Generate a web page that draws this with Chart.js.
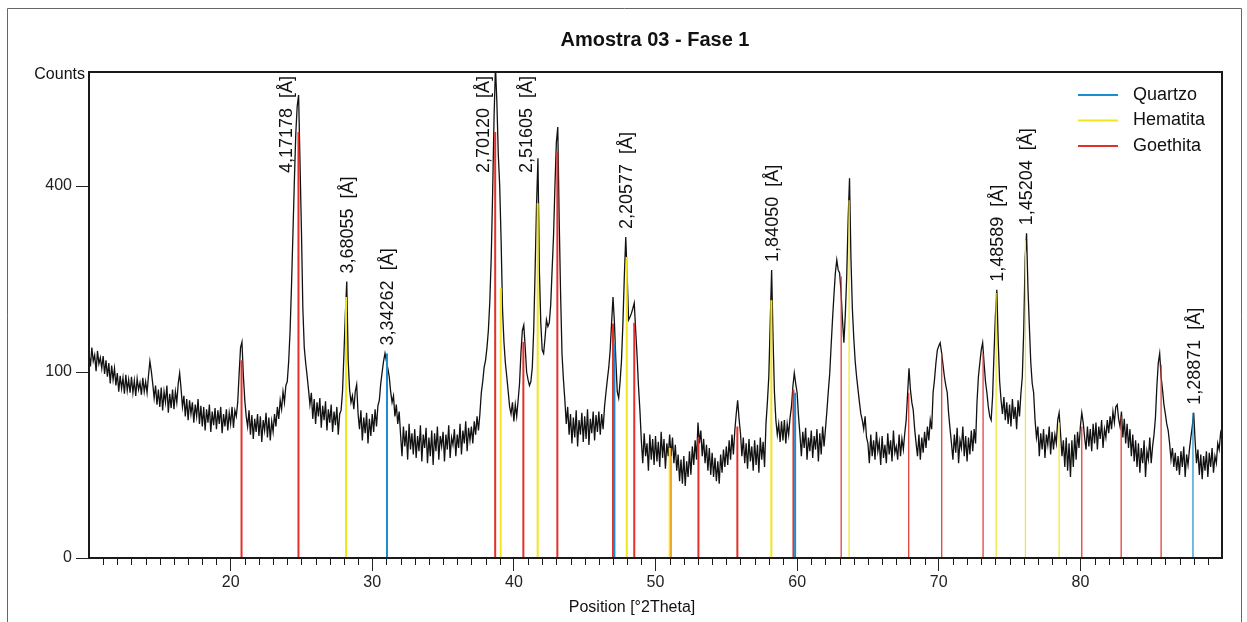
<!DOCTYPE html>
<html>
<head>
<meta charset="utf-8">
<script src="https://cdn.jsdelivr.net/npm/chart.js@4.4.1/dist/chart.umd.min.js"></script>
<style>
  html, body { margin: 0; background: #fff; }
  canvas { display: block; }
</style>
</head>
<body>
<canvas id="xrd" width="1247" height="622"></canvas>
<script>
// scan: 10.0 .. 90.0 °2Theta, one value per 0.1°
const scanStart = 10
const scanStep = 0.1
const counts = [
  121,106,128,112,119,101,124,109,116,104, // 10
  118,98,113,95,110,88,107,92,104,86,
  99,80,96,83,94,78,97,81,92,79,
  95,79,91,76,93,82,89,77,94,80,
  90,79,96,112,101,88,74,86,68,82,
  66,84,63,80,70,86,61,78,65,82, // 15
  64,80,70,88,99,83,66,76,58,73,
  55,72,60,70,53,68,58,73,52,67,
  50,66,47,64,53,68,46,62,51,65,
  48,63,52,66,45,60,50,64,47,61,
  52,66,49,63,58,70,98,128,135,96, // 20
  72,58,50,63,44,59,41,56,46,60,
  43,58,39,55,47,61,42,57,40,54,
  46,60,50,66,56,72,64,80,70,86,
  90,112,150,215,305,410,520,590,620,450,
  310,180,128,110,96,82,68,79,56,73, // 25
  52,70,58,74,49,67,55,71,47,64,
  53,68,46,62,51,66,44,60,63,80,
  120,172,221,113,82,70,76,64,80,87,
  60,48,63,40,57,45,61,38,56,43,
  60,46,64,50,67,72,88,100,112,121, // 30
  112,104,95,80,70,76,58,68,52,62,
  44,30,50,36,47,28,52,34,45,31,
  48,29,43,33,51,27,44,35,49,26,
  42,30,47,25,45,33,50,28,43,36,
  46,27,44,34,51,29,42,37,48,30, // 35
  44,35,52,31,47,38,54,33,49,40,
  50,38,54,44,58,47,60,79,90,105,
  113,128,150,190,260,385,560,700,600,470,
  400,290,178,135,110,95,80,66,60,70,
  54,68,58,72,88,122,150,157,128,100, // 40
  92,86,90,105,150,240,360,462,240,160,
  125,121,140,164,155,160,185,240,300,400,
  500,537,330,200,120,92,72,52,66,44,
  60,38,57,42,63,36,55,44,61,39,
  58,41,64,37,56,45,62,40,59,46, // 45
  62,44,60,48,66,79,92,105,125,160,
  197,160,113,80,74,90,113,160,230,298,
  230,164,168,173,180,188,150,118,85,63,
  40,26,45,30,38,22,44,28,41,25,
  43,27,39,24,46,29,41,23,38,30, // 50
  44,30,42,26,37,22,31,17,28,16,
  30,15,27,19,33,20,36,25,40,28,
  53,38,47,30,41,26,37,22,35,20,
  32,19,29,17,27,16,31,21,34,24,
  36,25,40,28,44,31,47,60,72,56, // 55
  45,30,42,26,38,23,41,27,36,22,
  40,25,37,21,42,28,39,24,52,70,
  95,160,240,140,79,55,44,52,39,54,
  40,55,38,52,44,57,66,85,99,88,
  79,58,44,30,46,35,49,28,42,33, // 60
  47,29,43,34,48,27,45,31,50,36,
  48,62,80,98,130,165,200,235,257,240,
  235,205,165,134,170,228,330,417,260,180,
  140,112,95,82,70,60,55,48,58,42,
  38,26,44,30,40,28,46,33,39,25, // 65
  43,29,37,26,45,31,40,27,47,32,
  36,28,44,30,41,34,45,55,78,104,
  82,70,63,48,38,30,44,28,42,32,
  46,35,50,40,55,48,79,92,110,125,
  130,134,122,108,95,86,79,60,48,38, // 70
  28,44,32,49,26,40,35,50,30,43,
  27,42,31,47,33,48,38,70,95,110,
  125,134,110,90,79,66,58,55,75,120,
  170,208,135,90,72,60,75,55,70,52,
  68,50,73,56,66,48,72,58,78,95, // 75
  150,260,305,210,154,110,88,79,55,42,
  50,30,45,34,48,29,44,37,50,31,
  46,34,44,38,55,61,45,30,40,24,
  42,22,38,19,40,24,44,28,46,35,
  50,61,53,42,34,50,36,48,33,52, // 80
  38,53,34,50,41,55,35,48,42,55,
  45,58,48,62,53,66,68,56,50,62,
  42,56,38,52,35,48,30,44,27,40,
  24,38,21,35,26,40,19,33,28,42,
  26,36,44,57,85,110,121,95,82,68, // 85
  60,52,47,38,28,35,24,32,22,30,
  20,33,24,36,19,31,25,34,42,50,
  61,40,26,34,20,31,18,30,22,33,
  19,32,24,35,21,30,26,38,34,45,
  40 // 90
]

// reference patterns (stick positions in °2Theta, stick heights in counts)
const phaseNames = ["Quartzo", "Hematita", "Goethita"]
const quartzoPos = [31.04, 47.1, 59.86, 87.95]
const quartzoTop = [121, 133, 79, 61]
const hematitaPos = [28.15, 39.07, 41.68, 47.97, 51.0, 58.18, 63.67, 74.05, 76.12, 78.5]
const hematitaTop = [197, 211, 364, 262, 35, 192, 370, 203, 292, 53]
const goethitaPos = [20.77, 24.79, 38.68, 40.67, 43.07, 47.0, 48.5, 51.06, 53.03, 55.78, 59.74, 63.11, 67.88, 70.21, 73.13, 80.1, 82.88, 85.7]
const goethitaTop = [113, 525, 525, 135, 477, 159, 160, 35, 42, 50, 82, 229, 79, 121, 121, 50, 58, 108]

// labelled peaks (d-spacing text, °2Theta)
const peakLabels = ["4,17178", "3,68055", "3,34262", "2,70120", "2,51605", "2,20577", "1,84050", "1,48589", "1,45204", "1,28871"]
const peakPos = [24.79, 28.2, 31.04, 38.7, 41.7, 47.95, 58.2, 74.1, 76.17, 87.99]

const yTicks = [0, 100, 400]
const xLabelTicks = [20, 30, 40, 50, 60, 70, 80]

const FONT = '"Liberation Sans", Arial, Helvetica, sans-serif'
const phaseColors = ["#1a8fcf", "#f2e61c", "#e2302b"]

// square-root intensity axis
class SqrtScale extends Chart.LinearScale {
  getPixelForValue(value) {
    if (value === null || value === undefined) return NaN
    const lo = Math.sqrt(Math.max(this.min, 0))
    const hi = Math.sqrt(this.max)
    return this.getPixelForDecimal((Math.sqrt(Math.max(value, 0)) - lo) / (hi - lo))
  }
  getValueForPixel(pixel) {
    const lo = Math.sqrt(Math.max(this.min, 0))
    const hi = Math.sqrt(this.max)
    const s = lo + this.getDecimalForPixel(pixel) * (hi - lo)
    return s * s
  }
}
SqrtScale.id = "sqrt"
SqrtScale.defaults = {}
Chart.register(SqrtScale)

const scan = counts.map((c, i) => ({ x: +(scanStart + i * scanStep).toFixed(2), y: c }))

function sticks(pos, top) {
  const pts = []
  pos.forEach((x, i) => {
    pts.push({ x: x, y: 0 }, { x: x, y: top[i] }, { x: x, y: null })
  })
  return pts
}

function stickDataset(label, pos, top, color) {
  return {
    label: label,
    data: sticks(pos, top),
    borderColor: color,
    borderWidth: 2,
    pointRadius: 0,
    spanGaps: false,
    order: 1,
    segment: {
      borderWidth: ctx => ctx.p0.parsed.x > 62 ? 1.2 : 2
    }
  }
}

const xrdDecor = {
  id: "xrdDecor",
  beforeDraw(chart) {
    const ctx = chart.ctx
    ctx.save()
    ctx.fillStyle = "#fff"
    ctx.fillRect(0, 0, chart.width, chart.height)
    ctx.strokeStyle = "#666"
    ctx.lineWidth = 1
    ctx.beginPath()
    ctx.moveTo(7.5, chart.height)
    ctx.lineTo(7.5, 8.5)
    ctx.lineTo(1241.5, 8.5)
    ctx.lineTo(1241.5, chart.height)
    ctx.stroke()
    ctx.restore()
  },
  afterDatasetsDraw(chart) {
    const { ctx, chartArea } = chart
    const x = chart.scales.x
    const y = chart.scales.y
    ctx.save()
    ctx.font = "18px " + FONT
    ctx.fillStyle = "#111"
    peakLabels.forEach((d, i) => {
      const text = d + "  [Å]"
      const pos = peakPos[i]
      let top = 0
      counts.forEach((c, j) => {
        const t = scanStart + j * scanStep
        if (Math.abs(t - pos) <= 0.15 && c > top) top = c
      })
      const px = x.getPixelForValue(pos)
      const py = Math.max(y.getPixelForValue(Math.min(top, y.max)), chartArea.top)
      const w = ctx.measureText(text).width
      ctx.save()
      if (py - 8 - w > chartArea.top + 3) {
        ctx.translate(px + 1, py - 8)
        ctx.rotate(-Math.PI / 2)
        ctx.textAlign = "left"
        ctx.textBaseline = "middle"
      } else {
        ctx.translate(px - 6, chartArea.top + 4)
        ctx.rotate(-Math.PI / 2)
        ctx.textAlign = "right"
        ctx.textBaseline = "alphabetic"
      }
      ctx.fillText(text, 0, 0)
      ctx.restore()
    })
    ctx.restore()
  },
  afterDraw(chart) {
    const { ctx, chartArea } = chart
    const x = chart.scales.x
    ctx.save()
    // plot frame
    ctx.strokeStyle = "#1a1a1a"
    ctx.lineWidth = 2
    ctx.strokeRect(chartArea.left, chartArea.top, chartArea.right - chartArea.left, chartArea.bottom - chartArea.top)
    // minor ticks every degree
    ctx.lineWidth = 1
    ctx.beginPath()
    for (let v = 11; v < 90; v++) {
      if (v % 10 === 0) continue
      const px = Math.round(x.getPixelForValue(v)) + 0.5
      ctx.moveTo(px, chartArea.bottom)
      ctx.lineTo(px, chartArea.bottom + 7)
    }
    ctx.stroke()
    // title
    ctx.fillStyle = "#111"
    ctx.textAlign = "center"
    ctx.textBaseline = "middle"
    ctx.font = "bold 20px " + FONT
    ctx.fillText("Amostra 03 - Fase 1", 655, 40)
    // axis captions
    ctx.font = "16px " + FONT
    ctx.fillText("Position [°2Theta]", 632, 608)
    ctx.textAlign = "right"
    ctx.fillText("Counts", 85, 75)
    // legend
    ctx.font = "18px " + FONT
    ctx.textAlign = "left"
    phaseNames.forEach((name, i) => {
      const ly = 95 + i * 25.5
      ctx.strokeStyle = phaseColors[i]
      ctx.lineWidth = 2
      ctx.beginPath()
      ctx.moveTo(1078, ly)
      ctx.lineTo(1118, ly)
      ctx.stroke()
      ctx.fillStyle = "#111"
      ctx.fillText(name, 1133, ly)
    })
    ctx.restore()
  }
}

new Chart(document.getElementById("xrd"), {
  type: "line",
  data: {
    datasets: [
      stickDataset(phaseNames[0], quartzoPos, quartzoTop, phaseColors[0]),
      stickDataset(phaseNames[1], hematitaPos, hematitaTop, phaseColors[1]),
      stickDataset(phaseNames[2], goethitaPos, goethitaTop, phaseColors[2]),
      {
        label: "Amostra 03",
        data: scan,
        borderColor: "#111",
        borderWidth: 1.3,
        pointRadius: 0,
        tension: 0,
        order: 2
      }
    ]
  },
  options: {
    responsive: false,
    animation: false,
    events: [],
    layout: {
      padding: { top: 72, right: 25, left: 0, bottom: 0 }
    },
    scales: {
      x: {
        type: "linear",
        min: 10,
        max: 90,
        afterFit(scale) { scale.height = 64 },
        ticks: {
          stepSize: 1,
          autoSkip: false,
          maxRotation: 0,
          padding: 2,
          color: "#222",
          font: { family: FONT, size: 16 },
          callback: v => xLabelTicks.includes(v) ? String(v) : ""
        },
        grid: {
          drawOnChartArea: false,
          tickLength: 13,
          tickColor: ctx => (ctx.tick && xLabelTicks.includes(ctx.tick.value)) ? "#222" : "rgba(0,0,0,0)"
        },
        border: { display: true, color: "#1a1a1a", width: 2 }
      },
      y: {
        type: "sqrt",
        min: 0,
        max: 683,
        bounds: "data",
        afterFit(scale) { scale.width = 89 },
        afterBuildTicks(axis) { axis.ticks = yTicks.map(v => ({ value: v })) },
        ticks: {
          padding: 4,
          color: "#222",
          font: { family: FONT, size: 16 },
          callback: v => String(v)
        },
        grid: {
          drawOnChartArea: false,
          tickLength: 13,
          tickColor: "#222"
        },
        border: { display: true, color: "#1a1a1a", width: 2 }
      }
    },
    plugins: {
      legend: { display: false },
      title: { display: false },
      tooltip: { enabled: false }
    }
  },
  plugins: [xrdDecor]
})
</script>
</body>
</html>
